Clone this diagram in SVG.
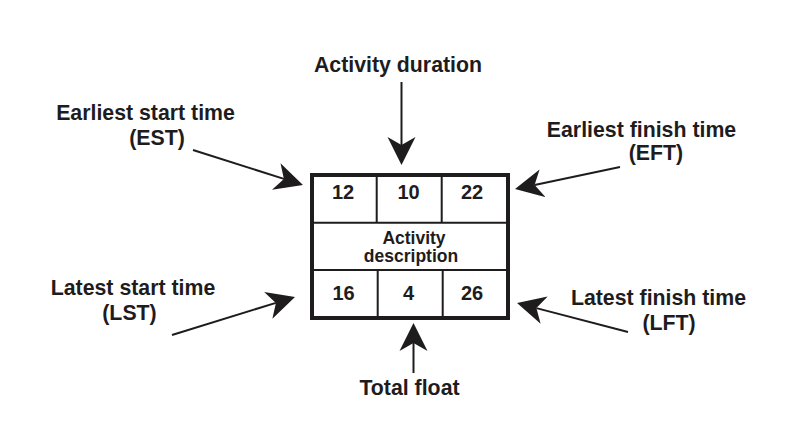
<svg xmlns="http://www.w3.org/2000/svg" width="800" height="434" viewBox="0 0 800 434">
<style>
.lbl{font-family:"Liberation Sans",Arial,sans-serif;font-weight:bold;font-size:21.3px;fill:#1e1c1d;text-anchor:middle}
.num{font-family:"Liberation Sans",Arial,sans-serif;font-weight:bold;font-size:20px;fill:#1e1c1d;text-anchor:middle}
.desc{font-family:"Liberation Sans",Arial,sans-serif;font-weight:bold;font-size:17.5px;fill:#1e1c1d;text-anchor:middle}
.cell{stroke:#1e1c1d;stroke-width:2;fill:none}
.conn{stroke:#1e1c1d;stroke-width:2;fill:none;marker-end:url(#ah)}
</style>
<defs>
<marker id="ah" markerUnits="userSpaceOnUse" viewBox="0 0 28 30" markerWidth="28" markerHeight="30" refX="8" refY="15" orient="auto">
<path d="M0,1 L28,15 L0,29 L8,15 Z" fill="#1e1c1d"/>
</marker>
</defs>
<rect width="800" height="434" fill="#ffffff"/>
<g id="activity-box">
<rect x="312" y="175" width="196" height="143" fill="#ffffff" stroke="#1e1c1d" stroke-width="4"/>
<line class="cell" x1="314" y1="222.7" x2="506" y2="222.7"/>
<line class="cell" x1="314" y1="270" x2="506" y2="270"/>
<line class="cell" x1="376.7" y1="177" x2="376.7" y2="222.7"/>
<line class="cell" x1="441.7" y1="177" x2="441.7" y2="222.7"/>
<line class="cell" x1="377.7" y1="270" x2="377.7" y2="316"/>
<line class="cell" x1="442.7" y1="270" x2="442.7" y2="316"/>
<text class="num" x="343" y="199">12</text>
<text class="num" x="408.5" y="199">10</text>
<text class="num" x="472" y="199">22</text>
<text class="desc" x="414" y="243.6">Activity</text>
<text class="desc" x="411" y="262.2">description</text>
<text class="num" x="343.5" y="299.5">16</text>
<text class="num" x="408.5" y="299.5">4</text>
<text class="num" x="472" y="299.5">26</text>
</g>
<g id="label-duration"><text class="lbl" x="398" y="72">Activity duration</text></g>
<g id="label-est"><text class="lbl" x="145.5" y="120">Earliest start time</text><text class="lbl" x="157" y="145">(EST)</text></g>
<g id="label-eft"><text class="lbl" x="641.5" y="137">Earliest finish time</text><text class="lbl" x="656" y="160">(EFT)</text></g>
<g id="label-lst"><text class="lbl" x="133" y="295">Latest start time</text><text class="lbl" x="129.5" y="320">(LST)</text></g>
<g id="label-lft"><text class="lbl" x="658.5" y="305">Latest finish time</text><text class="lbl" x="669" y="330">(LFT)</text></g>
<g id="label-float"><text class="lbl" x="409.5" y="395">Total float</text></g>
<g id="connectors">
<line class="conn" x1="401.5" y1="82" x2="401.5" y2="145"/>
<line class="conn" x1="413.5" y1="373" x2="413.5" y2="343"/>
<line class="conn" x1="193" y1="150" x2="283.9" y2="178.9"/>
<line class="conn" x1="620" y1="167" x2="534.6" y2="184.9"/>
<line class="conn" x1="172" y1="335" x2="275.9" y2="302.9"/>
<line class="conn" x1="628" y1="332" x2="536.4" y2="308.1"/>
</g>
</svg>
